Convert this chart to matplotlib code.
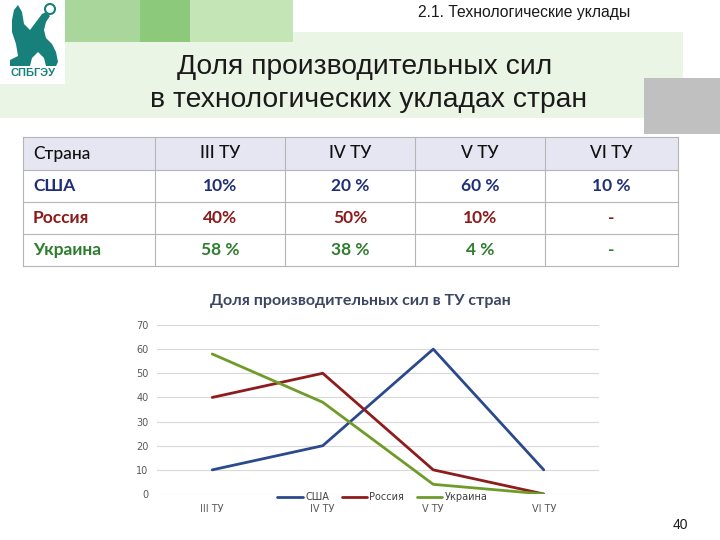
import matplotlib.pyplot as plt
from matplotlib.patches import Rectangle, Polygon, Circle

# data
categories = ["III ТУ", "IV ТУ", "V ТУ", "VI ТУ"]
countries = ["США", "Россия", "Украина"]
usa = [10, 20, 60, 10]
russia = [40, 50, 10, 0]
ukraine = [58, 38, 4, 0]
usa_cells = ["10%", "20 %", "60 %", "10 %"]
russia_cells = ["40%", "50%", "10%", "-"]
ukraine_cells = ["58 %", "38 %", "4 %", "-"]

line_colors = ["#2b4a8c", "#8e1c1c", "#6f9b2a"]
text_colors = ["#1f2e78", "#8b1a1a", "#2f7d2f"]

fig = plt.figure(figsize=(7.2, 5.4), dpi=100)

# slide background in pixel coordinates
bg = fig.add_axes([0, 0, 1, 1])
bg.set_xlim(0, 720)
bg.set_ylim(540, 0)
bg.axis("off")

bg.add_patch(Rectangle((0, 32), 683, 86, color="#ebf5e6", lw=0))
bg.add_patch(Rectangle((0, 0), 65, 84, color="white", lw=0))
bg.add_patch(Rectangle((65, 0), 75, 42, color="#a9d69b", lw=0))
bg.add_patch(Rectangle((140, 0), 50, 42, color="#8cc97a", lw=0))
bg.add_patch(Rectangle((190, 0), 103, 42, color="#c4e6b7", lw=0))
bg.add_patch(Rectangle((644, 78), 76, 56, color="#c0c0c0", lw=0))

# logo (rough griffin silhouette)
teal = "#17807b"
griffin = [(14, 10), (18, 5), (22, 12), (24, 24), (30, 30), (36, 22), (42, 14),
           (46, 12), (50, 16), (46, 22), (44, 30), (46, 38), (52, 44), (56, 52),
           (58, 62), (56, 66), (46, 66), (44, 58), (38, 52), (32, 58), (30, 66),
           (10, 66), (10, 60), (18, 56), (16, 44), (12, 32), (12, 20)]
bg.add_patch(Polygon(griffin, closed=True, color=teal, lw=0))
bg.add_patch(Circle((50, 9), 5, facecolor="white", edgecolor=teal, lw=1.5))
bg.text(33, 73, "СПБГЭУ", fontsize=8, fontweight="bold", color=teal,
        ha="center", va="center", family="Liberation Sans")

bg.text(418, 13, "2.1. Технологические уклады", fontsize=11.3, color="#1a1a1a",
        ha="left", va="center", family="Liberation Sans")
bg.text(365, 67, "Доля производительных сил", fontsize=20.3, color="#1a1a1a",
        ha="center", va="center", family="Liberation Sans")
bg.text(369, 100, "в технологических укладах стран", fontsize=20.3, color="#1a1a1a",
        ha="center", va="center", family="Liberation Sans")
bg.text(680, 525, "40", fontsize=10, color="#1a1a1a", ha="center", va="center",
        family="Liberation Sans")

# table
col_edges = [23, 155, 285, 415, 545, 678]
row_edges = [137, 170, 202, 234, 266]
header = ["Страна"] + categories
rows = [[countries[0]] + usa_cells,
        [countries[1]] + russia_cells,
        [countries[2]] + ukraine_cells]
tfont = ["Lato", "DejaVu Sans"]

bg.add_patch(Rectangle((col_edges[0], row_edges[0]), col_edges[-1] - col_edges[0],
                       row_edges[1] - row_edges[0], color="#e6e6f3", lw=0))
for x in col_edges:
    bg.plot([x, x], [row_edges[0], row_edges[-1]], color="#b5b5b5", lw=0.8)
for y in row_edges:
    bg.plot([col_edges[0], col_edges[-1]], [y, y], color="#b5b5b5", lw=0.8)

def cell_text(ci, ri, s, color, weight):
    yc = (row_edges[ri] + row_edges[ri + 1]) / 2
    if ci == 0:
        bg.text(col_edges[0] + 10, yc, s, ha="left", va="center", fontsize=12.5,
                color=color, fontweight=weight, family=tfont)
    else:
        xc = (col_edges[ci] + col_edges[ci + 1]) / 2
        bg.text(xc, yc, s, ha="center", va="center", fontsize=12.5,
                color=color, fontweight=weight, family=tfont)

for ci, s in enumerate(header):
    cell_text(ci, 0, s, "#111111", "medium")
for ri, row in enumerate(rows):
    for ci, s in enumerate(row):
        cell_text(ci, ri + 1, s, text_colors[ri], "bold")

# line chart
ax = fig.add_axes([157 / 720, 1 - 494 / 540, 442 / 720, 169 / 540])
x = list(range(len(categories)))
for name, vals, c in zip(countries, [usa, russia, ukraine], line_colors):
    ax.plot(x, vals, color=c, lw=2, label=name, solid_capstyle="round")
ax.set_xlim(-0.5, len(categories) - 0.5)
ax.set_ylim(0, 70)
ax.set_yticks(range(0, 71, 10))
ax.set_xticks(x)
ax.set_xticklabels(categories)
ax.grid(axis="y", color="#d9d9d9", lw=0.8)
ax.set_axisbelow(True)
for s in ax.spines.values():
    s.set_visible(False)
ax.tick_params(length=0, labelsize=7, labelcolor="#595959")
ax.tick_params(axis="x", pad=7)
ax.tick_params(axis="y", pad=6)
ax.patch.set_alpha(0)
ax.legend(ncol=3, loc="center", bbox_to_anchor=(0.51, -0.018), frameon=False,
          fontsize=7, handlelength=2.6, columnspacing=1.3, handletextpad=0.25,
          labelcolor="#404040")

fig.text(360 / 720, 1 - 301 / 540, "Доля производительных сил в ТУ стран",
         fontsize=11.5, fontweight="bold", color="#3b4660", ha="center", va="center",
         family=tfont)

fig.savefig("out.png", dpi=100)
